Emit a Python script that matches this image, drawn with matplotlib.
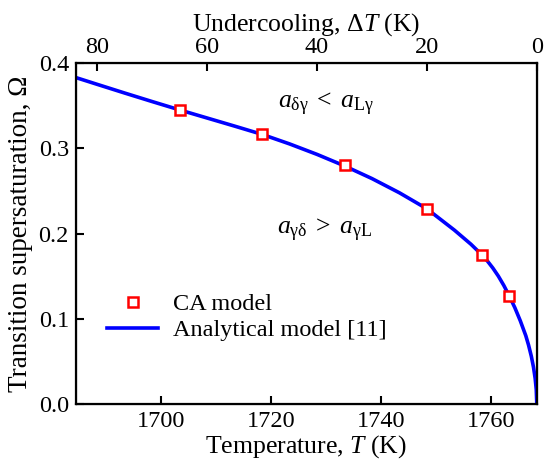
import numpy as np
import matplotlib
matplotlib.use('Agg')
import matplotlib.pyplot as plt

plt.rcParams['font.family'] = ['Liberation Serif', 'DejaVu Serif']
plt.rcParams['mathtext.fontset'] = 'custom'
plt.rcParams['mathtext.rm'] = 'Liberation Serif'
plt.rcParams['mathtext.it'] = 'Liberation Serif:italic'
plt.rcParams['font.size'] = 17.5

T_liq = 1768.4

# CA model points (undercooling in K, supersaturation)
ca_dT = [65, 50, 35, 20, 10, 5]
ca_omega = [0.345, 0.317, 0.280, 0.229, 0.175, 0.127]

# analytical model curve
an_dT = [84, 80, 75, 70, 65, 60, 55, 50, 45, 40, 35, 30, 25, 20, 15, 12, 10, 9, 8, 7, 6, 5,
         4, 3, 2, 1.5, 1, 0.6, 0.3, 0.1, 0]
an_omega = [0.3833, 0.3751, 0.3649, 0.3549, 0.3451, 0.3356, 0.3261, 0.3164, 0.3052, 0.2929,
            0.2794, 0.2645, 0.2478, 0.2290, 0.2040, 0.1875, 0.1750, 0.1678, 0.1595, 0.1500,
            0.1390, 0.1265, 0.1130, 0.0975, 0.0800, 0.0690, 0.0560, 0.0430, 0.0300, 0.0170, 0.0]

T_ca = T_liq - np.array(ca_dT)
T_an = T_liq - np.array(an_dT)

fig = plt.figure(figsize=(5.5, 4.68), dpi=100)
ax = fig.add_axes([0.138, 0.137, 0.838, 0.728])

ax.plot(T_an, an_omega, color='#0000ff', lw=2.6, label='Analytical model [11]', zorder=2)
ax.plot(T_ca, ca_omega, ls='none', marker='s', ms=7.5, mfc='white', mec='#ff0000', mew=1.8,
        label='CA model', zorder=3)

ax.set_xlim(1684.5, T_liq)
ax.set_ylim(0, 0.4)
ax.set_xticks([1700, 1720, 1740, 1760])
ax.set_yticks([0.0, 0.1, 0.2, 0.3, 0.4])
ax.set_yticklabels(['0.0', '0.1', '0.2', '0.3', '0.4'])
ax.set_xlabel('Temperature, $T$ (K)', labelpad=1, fontsize=18.5)
ax.set_ylabel('Transition supersaturation, \u03a9', labelpad=4, fontsize=19.5)
ax.tick_params(direction='in', length=6, width=1.5, top=False, right=False, pad=5)
for s in ax.spines.values():
    s.set_linewidth(1.6)

ax2 = ax.twiny()
ax2.set_xlim(T_liq - 1684.5, 0)
ax2.set_xticks([80, 60, 40, 20, 0])
ax2.set_xlabel('Undercooling, \u0394$T$ (K)', labelpad=4, fontsize=18.5)
ax2.tick_params(direction='in', length=6, width=1.5, pad=4)

ax.text(1730.0, 0.351, r'$a_{\mathrm{\delta\gamma}}\;<\;a_{\mathrm{L\gamma}}$', ha='center', va='center', fontsize=18.5)
ax.text(1729.8, 0.204, r'$a_{\mathrm{\gamma\delta}}\;>\;a_{\mathrm{\gamma L}}$', ha='center', va='center', fontsize=18.5)

h, l = ax.get_legend_handles_labels()
ax.legend(h[::-1], l[::-1], loc='lower left', bbox_to_anchor=(0.02, 0.12), frameon=False,
          handlelength=2.1, handletextpad=0.6, labelspacing=0.15, fontsize=17.5)

fig.savefig('out.png', dpi=100)
